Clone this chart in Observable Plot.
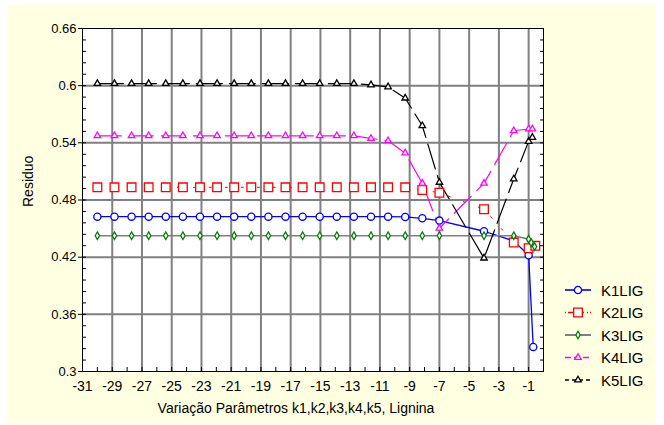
<!DOCTYPE html>
<html><head><meta charset="utf-8">
<script src="https://cdn.jsdelivr.net/npm/d3@7"></script>
<script src="https://cdn.jsdelivr.net/npm/@observablehq/plot@0.6"></script>
<style>
body{margin:0;background:#fff;}
#wrap{position:relative;width:664px;height:425px;overflow:hidden;font-family:"Liberation Sans",Arial,sans-serif;}
#bg{position:absolute;left:7px;top:5px;width:649px;height:418px;background:#FFFFE1;}
#chart{position:absolute;left:0;top:0;}
#legend{position:absolute;left:0;top:0;}
</style></head><body>
<div id="wrap"><div id="bg"></div><div id="chart"></div><svg id="legend" width="664" height="425"></svg></div>
<script>
// ---- data ----
const xShared = [-30, -28.85, -27.7, -26.55, -25.4, -24.25, -23.1, -21.95, -20.8, -19.65, -18.5, -17.35, -16.2, -15.05, -13.9, -12.75, -11.6, -10.45, -9.3, -8.15, -7];

const k1X = xShared.concat([-4, -2, -1, -0.69]);
const k1Y = [0.4625, 0.4625, 0.4625, 0.4625, 0.4625, 0.4625, 0.4625, 0.4625, 0.4625, 0.4625, 0.4625, 0.4625, 0.4625, 0.4625, 0.4625, 0.4625, 0.4625, 0.4625, 0.4622, 0.4608, 0.4584,
             0.4472, 0.437, 0.422, 0.3258];

const k2X = xShared.concat([-4, -2, -1, -0.55]);
const k2Y = [0.4933, 0.4933, 0.4933, 0.4933, 0.4933, 0.4933, 0.4933, 0.4933, 0.4933, 0.4933, 0.4933, 0.4933, 0.4933, 0.4933, 0.4933, 0.4933, 0.4933, 0.4933, 0.4933, 0.4905, 0.4876,
             0.4703, 0.4353, 0.4294, 0.4319];

const k3X = xShared.concat([-4, -2, -1, -0.83, -0.6]);
const k3Y = [0.4425, 0.4425, 0.4425, 0.4425, 0.4425, 0.4425, 0.4425, 0.4425, 0.4425, 0.4425, 0.4425, 0.4425, 0.4425, 0.4425, 0.4425, 0.4425, 0.4425, 0.4425, 0.4425, 0.4425, 0.4425,
             0.4425, 0.4425, 0.4389, 0.4353, 0.4311];

const k4X = xShared.concat([-4, -2, -1, -0.75]);
const k4Y = [0.5474, 0.5474, 0.5474, 0.5474, 0.5474, 0.5474, 0.5474, 0.5474, 0.5474, 0.5474, 0.5474, 0.5474, 0.5474, 0.5474, 0.5474, 0.5474, 0.5446, 0.5422, 0.5293, 0.4975, 0.4504,
             0.4975, 0.5527, 0.5545, 0.5545];

const k5X = xShared.concat([-4, -2, -1, -0.75]);
const k5Y = [0.6022, 0.6022, 0.6022, 0.6022, 0.6022, 0.6022, 0.6022, 0.6022, 0.6022, 0.6022, 0.6022, 0.6022, 0.6022, 0.6022, 0.6022, 0.6022, 0.6008, 0.5987, 0.5869, 0.5579, 0.4985,
             0.419, 0.5021, 0.5415, 0.5457];

const seriesNames = ["K1LIG", "K2LIG", "K3LIG", "K4LIG", "K5LIG"];
const yTicks = [0.3, 0.36, 0.42, 0.48, 0.54, 0.6, 0.66];
const yTickLabels = ["0.3", "0.36", "0.42", "0.48", "0.54", "0.6", "0.66"];
const xTicks = [-31, -29, -27, -25, -23, -21, -19, -17, -15, -13, -11, -9, -7, -5, -3, -1];
const xTitle = "Variação Parâmetros k1,k2,k3,k4,k5, Lignina";
const yTitle = "Residuo";

// ---- styles ----
const styles = [
  {line: "#0000FF", mark: "#0000FF", symbol: "circle", d3sym: d3.symbolCircle, r: 3.6, dash: null, lw: 1.3, legDash: null},
  {line: "#FF0000", mark: "#FF0000", symbol: "square", d3sym: d3.symbolSquare, r: 4.9, dash: "2,14", lw: 1, legDash: "1,2,5,3"},
  {line: "#808080", mark: "#008000", symbol: "diamond", d3sym: d3.symbolDiamond, r: 2.3, dash: null, lw: 1.7, legDash: null},
  {line: "#FF00FF", mark: "#FF00FF", symbol: "triangle2", d3sym: d3.symbolTriangle2, r: 3.1, dash: "24,8", lw: 1.2, legDash: "6,3"},
  {line: "#000000", mark: "#000000", symbol: "triangle2", d3sym: d3.symbolTriangle2, r: 3.1, dash: "26,7", lw: 1.2, legDash: "4,3"}
];

const xs = [k1X, k2X, k3X, k4X, k5X];
const ys = [k1Y, k2Y, k3Y, k4Y, k5Y];
const tables = xs.map((xa, i) => xa.map((x, j) => ({x, y: ys[i][j], s: seriesNames[i]})));

const yMinor = d3.range(0, 31).map(i => +(0.3 + i * 0.012).toFixed(3));
const xMinor = d3.range(-31, 1);
const gridYVals = yTicks.slice(1, -1);
const gridXVals = xTicks.slice(1);

const marks = [Plot.frame({fill: "white"}),
  Plot.gridY(gridYVals, {stroke: "#808080", strokeOpacity: 1, strokeWidth: 2}),
  Plot.gridX(gridXVals, {stroke: "#808080", strokeOpacity: 1, strokeWidth: 2})];

tables.forEach((t, i) => {
  const s = styles[i];
  marks.push(Plot.line(t, {x: "x", y: "y", stroke: s.line, strokeWidth: s.lw, strokeDasharray: s.dash}));
});
tables.forEach((t, i) => {
  const s = styles[i];
  marks.push(Plot.dot(t, {x: "x", y: "y", symbol: s.symbol, r: s.r, stroke: s.mark, fill: "white", strokeWidth: 1.3}));
});

marks.push(
  Plot.frame({stroke: "black", strokeWidth: 1}),
  Plot.axisY(yTicks, {anchor: "left", tickSize: 4, tickPadding: 2, fontSize: 13, tickFormat: d => yTickLabels[yTicks.indexOf(d)], label: null, stroke: "black"}),
  Plot.axisY(yMinor, {anchor: "left", tickSize: 4, dx: 4, tickFormat: () => "", label: null}),
  Plot.axisY(yMinor, {anchor: "right", tickSize: 4, dx: -4, tickFormat: () => "", label: null}),
  Plot.axisX(xTicks, {anchor: "bottom", tickSize: 0, tickPadding: 10, fontSize: 14, tickFormat: d => String(d), label: null}),
  Plot.axisX(xMinor, {anchor: "bottom", tickSize: 4, dy: -4, tickFormat: () => "", label: null}),
  Plot.text([xTitle], {frameAnchor: "bottom", dx: -17, dy: 41, fontSize: 14, fill: "black"}),
  Plot.text([yTitle], {frameAnchor: "left", dx: -54, dy: 7, rotate: -90, fontSize: 14, fill: "black"})
);

const chart = Plot.plot({
  width: 664, height: 425,
  marginLeft: 82, marginRight: 121, marginTop: 28, marginBottom: 54,
  style: {background: "transparent", fontFamily: "'Liberation Sans', Arial, sans-serif", overflow: "visible", color: "black"},
  x: {domain: [-31, 0], label: null},
  y: {domain: [0.3, 0.66], label: null},
  marks
});
document.getElementById("chart").appendChild(chart);

// ---- legend ----
const leg = d3.select("#legend");
seriesNames.forEach((name, i) => {
  const s = styles[i];
  const y0 = 290 + i * 22.5;
  const g = leg.append("g");
  g.append("line").attr("x1", 565).attr("x2", 591).attr("y1", y0).attr("y2", y0)
    .attr("stroke", s.line).attr("stroke-width", s.lw + 0.3).attr("stroke-dasharray", s.legDash);
  g.append("path").attr("transform", `translate(578,${y0})`)
    .attr("d", d3.symbol(s.d3sym, Math.PI * s.r * s.r)())
    .attr("fill", "white").attr("stroke", s.mark).attr("stroke-width", 1.3);
  g.append("text").attr("x", 601).attr("y", y0 + 5.5).text(name)
    .attr("font-size", 15).attr("font-family", "'Liberation Sans', Arial, sans-serif").attr("fill", "black");
});
</script>
</body></html>
